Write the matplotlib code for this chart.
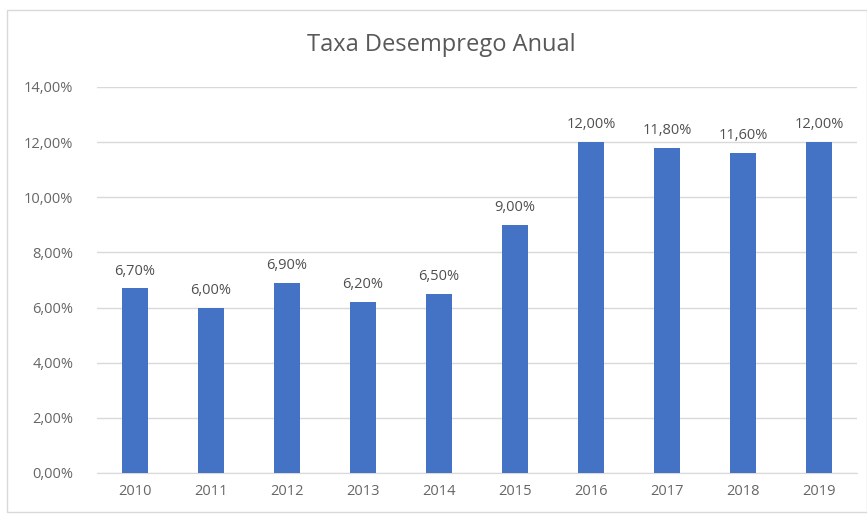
import matplotlib.pyplot as plt
from matplotlib.patches import Rectangle
from matplotlib.ticker import FuncFormatter, MultipleLocator

anos = ["2010", "2011", "2012", "2013", "2014", "2015", "2016", "2017", "2018", "2019"]
taxas = [6.7, 6.0, 6.9, 6.2, 6.5, 9.0, 12.0, 11.8, 11.6, 12.0]

plt.rcParams['font.family'] = ['Open Sans', 'DejaVu Sans']

W, H = 867, 515
fig = plt.figure(figsize=(W / 100, H / 100), dpi=100)
fig.patch.set_facecolor("white")

# moldura do gráfico
fig.patches.append(Rectangle((7 / W, 3 / H), 1 - 7 / W, 1 - 13 / H, transform=fig.transFigure,
                             fill=False, edgecolor="#d9d9d9", linewidth=1))

ax = fig.add_axes([97 / W, 1 - 473 / H, 760 / W, (473 - 87) / H])
x = range(len(anos))
ax.bar(x, taxas, width=0.33, color="#4472c4", zorder=3)

ax.set_xlim(-0.5, len(anos) - 0.5)
ax.set_ylim(0, 14)
ax.yaxis.set_major_locator(MultipleLocator(2))
ax.yaxis.set_major_formatter(FuncFormatter(lambda v, p: f"{v:.2f}%".replace(".", ",")))
ax.set_xticks(list(x))
ax.set_xticklabels(anos)
ax.grid(axis="y", color="#d9d9d9", linewidth=1, zorder=0)
for s in ["top", "right", "left"]:
    ax.spines[s].set_visible(False)
ax.spines["bottom"].set_color("#d9d9d9")
ax.tick_params(length=0, colors="#666666", labelsize=10.5)
ax.tick_params(axis="x", pad=8)
ax.tick_params(axis="y", pad=17)

for i, v in enumerate(taxas):
    ax.annotate(f"{v:.2f}%".replace(".", ","), (i, v), xytext=(0, 7), textcoords="offset points",
                ha="center", va="bottom", fontsize=10.5, color="#505050")

fig.text(441 / W, 1 - 45 / H, "Taxa Desemprego Anual", ha="center", va="center",
         fontsize=17, color="#595959")

fig.savefig("out.png", dpi=100)
